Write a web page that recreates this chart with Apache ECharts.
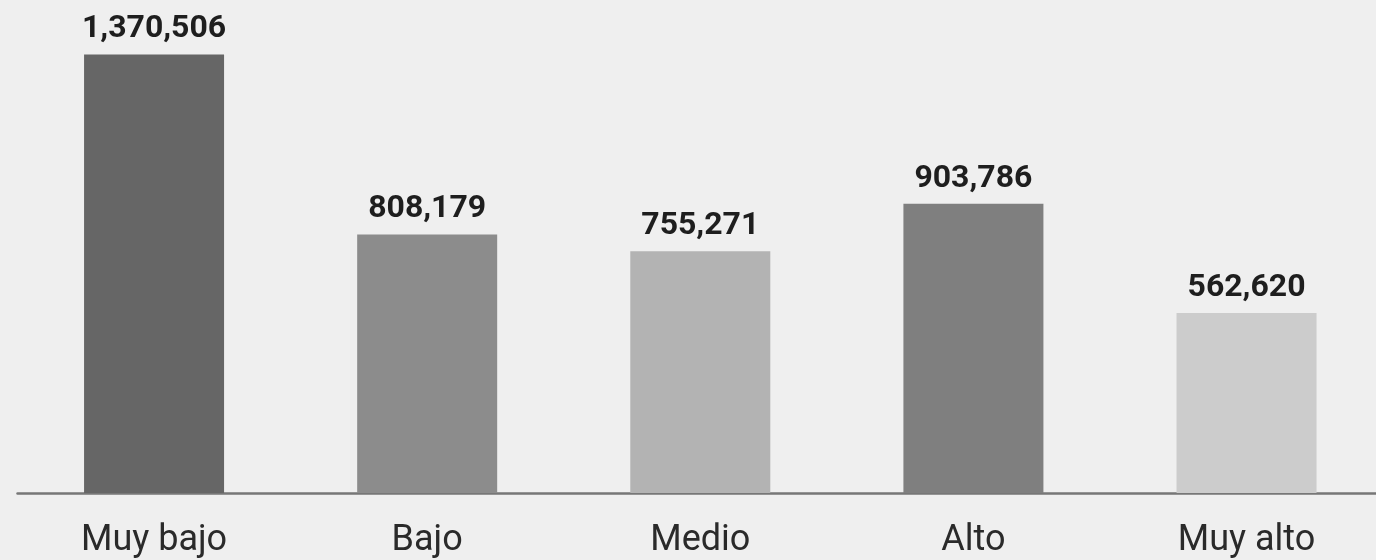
<!DOCTYPE html>
<html>
<head>
<meta charset="utf-8">
<style>
html,body{margin:0;padding:0;background:#efefef;}
#chart{width:1376px;height:560px;}
</style>
<script src="https://cdn.jsdelivr.net/npm/echarts@6/dist/echarts.min.js"></script>
</head>
<body>
<div id="chart"></div>
<script>
const categories = ['Muy bajo', 'Bajo', 'Medio', 'Alto', 'Muy alto'];
const values = [1370506, 808179, 755271, 903786, 562620];
const barColors = ['#666666', '#8c8c8c', '#b3b3b3', '#7f7f7f', '#cccccc'];

const chart = echarts.init(document.getElementById('chart'));
chart.setOption({
  backgroundColor: '#efefef',
  animation: false,
  grid: { left: 17.5, width: 1365.6, top: 13, bottom: 67, containLabel: false, outerBoundsMode: 'none' },
  xAxis: {
    type: 'category',
    data: categories,
    axisLine: { show: true, lineStyle: { color: '#777777', width: 2.5 } },
    axisTick: { show: false },
    axisLabel: {
      margin: 30,
      color: '#2a2a2a',
      fontSize: 36,
      fontFamily: "Roboto, sans-serif"
    }
  },
  yAxis: {
    type: 'value',
    min: 0,
    max: 1500000,
    show: false,
    splitLine: { show: false }
  },
  series: [{
    type: 'bar',
    barWidth: 140,
    data: values.map((v, i) => ({ value: v, itemStyle: { color: barColors[i] } })),
    label: {
      show: true,
      position: 'top',
      distance: 9,
      color: '#1e1e1e',
      fontSize: 32,
      fontWeight: 'bold',
      fontFamily: "Roboto, 'Liberation Sans', sans-serif",
      formatter: p => p.value.toLocaleString('en-US')
    }
  }]
});
</script>
</body>
</html>
